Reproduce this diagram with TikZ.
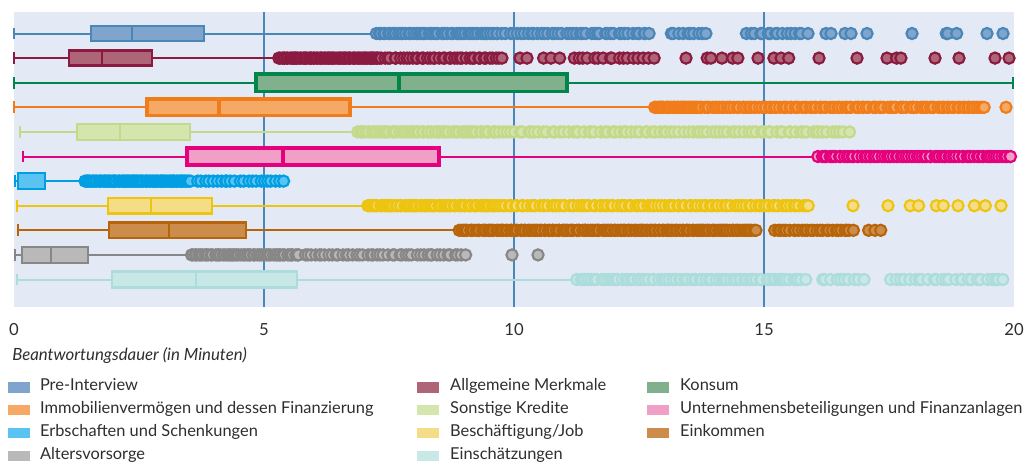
\documentclass[tikz,border=0pt]{standalone}
\usepackage{fontspec}
\setmainfont{Lato}
\usetikzlibrary{positioning}

\definecolor{plotbg}{HTML}{E3E9F5}
\definecolor{gridline}{HTML}{4A86B8}
\definecolor{textgray}{HTML}{2E2E2E}
\definecolor{preline}{HTML}{4A86B8}   \definecolor{prefill}{HTML}{7FA5CC}
\definecolor{allgline}{HTML}{8A1A40}  \definecolor{allgfill}{HTML}{AD6577}
\definecolor{konsline}{HTML}{00854A}  \definecolor{konsfill}{HTML}{80B08C}
\definecolor{immoline}{HTML}{F07D19}  \definecolor{immofill}{HTML}{F5A964}
\definecolor{sonstline}{HTML}{C5D98A} \definecolor{sonstfill}{HTML}{D4E5AE}
\definecolor{unterline}{HTML}{E5007D} \definecolor{unterfill}{HTML}{F19FC7}
\definecolor{erbline}{HTML}{009FE3}   \definecolor{erbfill}{HTML}{5AC3F1}
\definecolor{beschline}{HTML}{EDC40F} \definecolor{beschfill}{HTML}{F5DC87}
\definecolor{einkline}{HTML}{B8650A}  \definecolor{einkfill}{HTML}{CB8C4C}
\definecolor{alterline}{HTML}{878787} \definecolor{alterfill}{HTML}{B9B9B9}
\definecolor{einschline}{HTML}{ADDCDC} \definecolor{einschfill}{HTML}{C8E7E7}

\tikzset{
  whisker/.style={line width=1.5pt},
  outlier/.style={line width=1.6pt},
  ticklabel/.style={inner sep=0pt, text=textgray, font=\fontsize{12.5}{14}\selectfont},
  axistitle/.style={inner sep=0pt, anchor=west, text=textgray, font=\fontsize{12.6}{14}\selectfont\itshape},
  legswatch/.style={minimum width=16.5pt, minimum height=8pt, inner sep=0pt},
  legtext/.style={inner sep=0pt, text height=0.72em, text depth=0.22em, text=textgray, font=\fontsize{12.3}{14}\selectfont}
}

% row, key, lower whisker, q1, median, q3, upper whisker, border width, half height
\newcommand{\boxrow}[9]{%
  \draw[whisker, draw=#2line] (#3,#1) -- (#4,#1) (#6,#1) -- (#7,#1);
  \draw[whisker, draw=#2line] (#3,#1-0.24) -- (#3,#1+0.24) (#7,#1-0.24) -- (#7,#1+0.24);
  \draw[draw=#2line, fill=#2fill, line width=#8] (#4,#1-#9) rectangle (#6,#1+#9);
  \draw[draw=#2line, line width=#8] (#5,#1-#9) -- (#5,#1+#9);
}

% row, key, list of from/to/step (from/from/0 for a single point)
\newcommand{\outlierrow}[3]{%
  \foreach \ofrom/\oto/\ostep in {#3}{%
    \pgfmathsetmacro{\onext}{\ofrom+\ostep}%
    \ifdim\oto pt>\ofrom pt
      \foreach \x in {\ofrom,\onext,...,\oto}{%
        \pgfmathsetmacro{\xj}{\x+0.9*\ostep*(rnd-0.5)}%
        \draw[outlier, draw=#2line, fill=#2fill] (\xj,#1) circle[radius=4.2pt];}
    \else
      \draw[outlier, draw=#2line, fill=#2fill] (\ofrom,#1) circle[radius=4.2pt];
    \fi
  }%
}

\begin{document}
\begin{tikzpicture}[x=37.5pt, y=-18.45pt]
\useasboundingbox (-0.28,-1.362) rectangle (20.2,17.46);
\pgfmathsetseed{11}

% plot area
\fill[plotbg] (0,-0.874) rectangle (20,11.12);
\foreach \g in {5,10,15}
  \draw[gridline, line width=0.8pt] (\g,-0.874) -- (\g,11.12);

% boxes
\boxrow{0}{pre}{0}{1.54}{2.36}{3.8}{7.2}{1.7pt}{0.305}
\boxrow{1}{allg}{0}{1.1}{1.76}{2.76}{5.3}{1.7pt}{0.305}
\boxrow{2}{kons}{0}{4.84}{7.7}{11.06}{19.98}{2.7pt}{0.356}
\boxrow{3}{immo}{0}{2.66}{4.1}{6.72}{12.82}{2.7pt}{0.34}
\boxrow{4}{sonst}{0.12}{1.26}{2.12}{3.52}{6.86}{1.8pt}{0.32}
\boxrow{5}{unter}{0.18}{3.46}{5.38}{8.5}{16.1}{2.7pt}{0.34}
\boxrow{6}{erb}{0.02}{0.08}{0.08}{0.62}{1.42}{1.8pt}{0.32}
\boxrow{7}{besch}{0.06}{1.88}{2.74}{3.96}{7.08}{1.8pt}{0.32}
\boxrow{8}{eink}{0.08}{1.9}{3.1}{4.64}{8.92}{1.8pt}{0.32}
\boxrow{9}{alter}{0.02}{0.16}{0.74}{1.48}{3.54}{1.8pt}{0.32}
\boxrow{10}{einsch}{0.06}{1.96}{3.64}{5.66}{11.26}{1.8pt}{0.32}

% outliers
\outlierrow{0}{pre}{7.24/9.72/0.05, 9.78/12.78/0.07, 13.14/13.94/0.08, 14.66/15.88/0.08,
  16.24/16.24/0, 16.34/16.34/0, 16.62/16.62/0, 16.74/16.74/0, 17.06/17.06/0, 17.96/17.96/0,
  18.62/18.92/0.1, 19.46/19.46/0, 19.78/19.78/0}
\outlierrow{1}{allg}{5.3/7.32/0.03, 7.36/9.78/0.06, 10.12/10.12/0, 10.26/10.26/0, 10.58/10.86/0.14,
  11.2/12.82/0.1, 13.44/13.44/0, 13.84/13.94/0.1, 14.2/14.58/0.13, 14.88/14.88/0,
  15.16/15.44/0.14, 16.1/16.1/0, 16.86/16.86/0, 17.46/17.46/0, 17.64/17.78/0.14,
  18.42/18.42/0, 18.9/18.9/0, 19.62/19.62/0, 19.9/19.9/0}
\outlierrow{3}{immo}{12.82/13.72/0.03, 13.76/19.44/0.05, 19.84/19.84/0}
\outlierrow{4}{sonst}{6.86/9.72/0.05, 9.8/16.72/0.08}
\outlierrow{5}{unter}{16.1/19.98/0.05}
\outlierrow{6}{erb}{1.42/3.5/0.03, 3.56/5.42/0.08}
\outlierrow{7}{besch}{7.08/9.72/0.04, 9.78/15.94/0.06, 16.78/16.78/0, 17.48/17.48/0,
  17.92/18.12/0.2, 18.46/18.62/0.16, 18.88/18.88/0, 19.2/19.44/0.24, 19.74/19.74/0}
\outlierrow{8}{eink}{8.92/14.84/0.04, 15.22/16.78/0.06, 17.12/17.34/0.11}
\outlierrow{9}{alter}{3.54/5.72/0.04, 5.8/9.08/0.07, 9.96/9.96/0, 10.48/10.48/0}
\outlierrow{10}{einsch}{11.26/15.84/0.06, 16.16/17.04/0.09, 17.56/19.88/0.09}

% axis
\foreach \t in {0,5,10,15,20}
  \node[ticklabel] (tick\t) at (\t,12.05) {\t};
\node[axistitle] (xtitle) at (-0.04,13.07) {Beantwortungsdauer (in Minuten)};

% legend
\node[legswatch, fill=prefill] (sw-pre) at (0.09,14.39) {};
\node[legtext, right=7.5pt of sw-pre] (lt-pre) {Pre-Interview};
\node[legswatch, fill=immofill] (sw-immo) at (0.09,15.3) {};
\node[legtext, right=7.5pt of sw-immo] (lt-immo) {Immobilienvermögen und dessen Finanzierung};
\node[legswatch, fill=erbfill] (sw-erb) at (0.09,16.24) {};
\node[legtext, right=7.5pt of sw-erb] (lt-erb) {Erbschaften und Schenkungen};
\node[legswatch, fill=alterfill] (sw-alter) at (0.09,17.17) {};
\node[legtext, right=7.5pt of sw-alter] (lt-alter) {Altersvorsorge};

\node[legswatch, fill=allgfill] (sw-allg) at (8.28,14.39) {};
\node[legtext, right=8pt of sw-allg] (lt-allg) {Allgemeine Merkmale};
\node[legswatch, fill=sonstfill] (sw-sonst) at (8.28,15.3) {};
\node[legtext, right=8pt of sw-sonst] (lt-sonst) {Sonstige Kredite};
\node[legswatch, fill=beschfill] (sw-besch) at (8.28,16.24) {};
\node[legtext, right=8pt of sw-besch] (lt-besch) {Beschäftigung/Job};
\node[legswatch, fill=einschfill] (sw-einsch) at (8.28,17.17) {};
\node[legtext, right=8pt of sw-einsch] (lt-einsch) {Einschätzungen};

\node[legswatch, fill=konsfill] (sw-kons) at (12.88,14.39) {};
\node[legtext, right=8pt of sw-kons] (lt-kons) {Konsum};
\node[legswatch, fill=unterfill] (sw-unter) at (12.88,15.3) {};
\node[legtext, right=8pt of sw-unter] (lt-unter) {Unternehmensbeteiligungen und Finanzanlagen};
\node[legswatch, fill=einkfill] (sw-eink) at (12.88,16.24) {};
\node[legtext, right=8pt of sw-eink] (lt-eink) {Einkommen};
\end{tikzpicture}
\end{document}
